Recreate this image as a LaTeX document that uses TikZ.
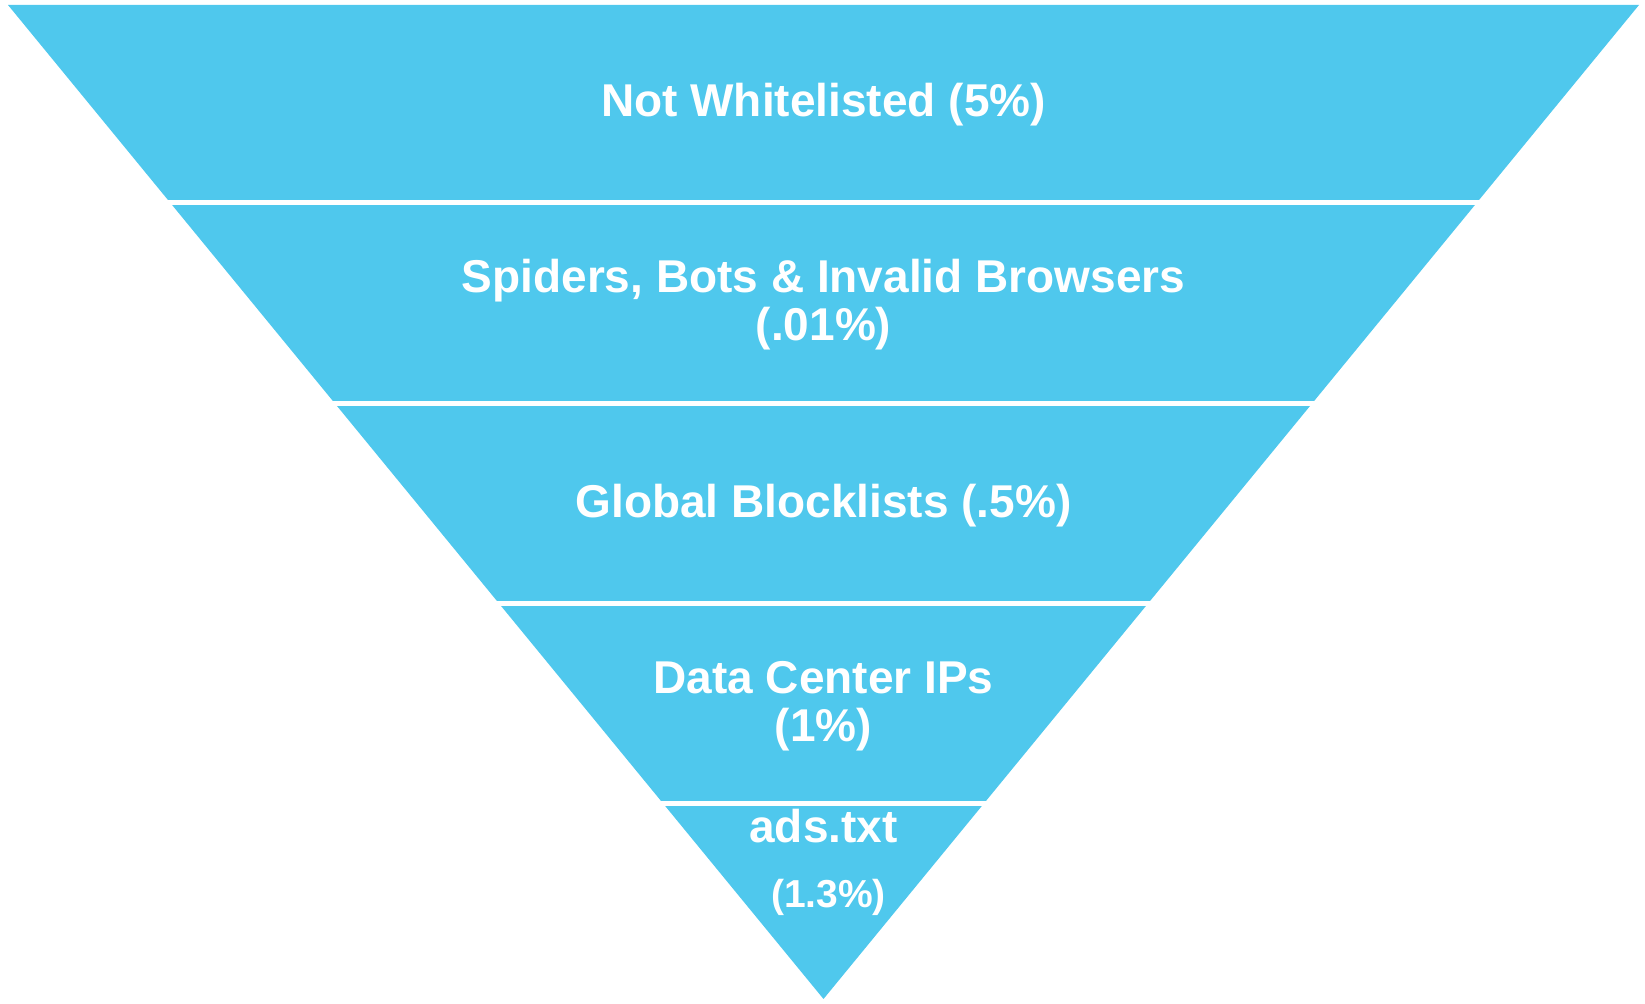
\documentclass[tikz,border=0pt]{standalone}
\usepackage{fontspec}
\setmainfont{Liberation Sans}
\definecolor{funnelblue}{RGB}{79,200,237}
\tikzset{
    band/.style={fill=funnelblue, draw=none},
    gap/.style={draw=white, line width=2.5pt},
    lbl/.style={text=white, align=center, inner sep=0pt,
        font=\bfseries\fontsize{23}{24}\selectfont}
}
\begin{document}
\begin{tikzpicture}[x=0.5pt, y=-0.5pt]
        \useasboundingbox (0,0) rectangle (1645,1004);
        % Imbuto
        \fill[band] (8,5) -- (1639,5) -- (823.5,999) -- cycle;
        % Separatori
        \foreach \y in {202.5,403.5,603.5,804}
            \draw[gap] (0,\y) -- (1645,\y);
        % Etichette
        \node[lbl] (nw) at (823.5,105) {Not Whitelisted (5\%)};
        \node[lbl] (bots) at (823.5,304.5) {Spiders, Bots \& Invalid Browsers\\(.01\%)};
        \node[lbl] (block) at (823.5,506) {Global Blocklists (.5\%)};
        \node[lbl] (dc) at (823.5,706) {Data Center IPs\\(1\%)};
        \node[lbl] (ads) at (823.5,862.5) {ads.txt\\[8.5pt]{\fontsize{19.5}{24}\selectfont\hspace*{5pt}(1.3\%)}};
    \end{tikzpicture}
\end{document}
